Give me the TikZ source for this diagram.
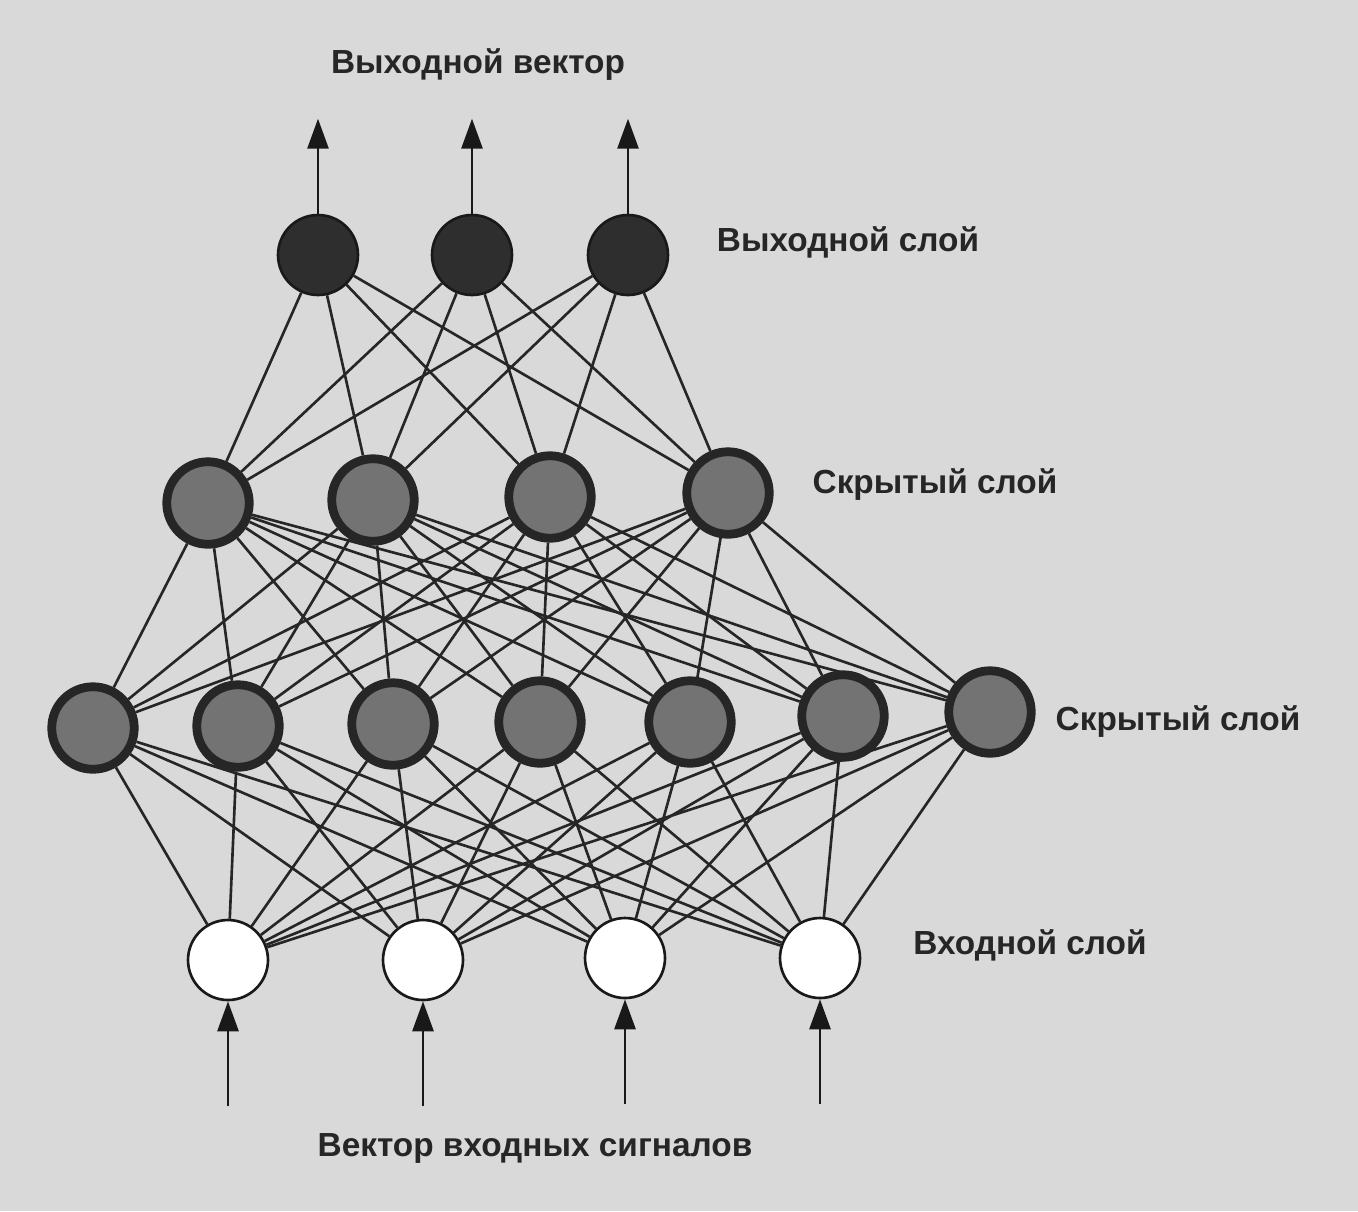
\documentclass[tikz,border=0pt]{standalone}
\usepackage{fontspec}
\setmainfont{Liberation Sans}
\usetikzlibrary{arrows.meta,calc}

\tikzset{
  outneuron/.style={circle,draw=black!90,fill=black!82,line width=1.5pt,minimum size=1.6cm,inner sep=0pt},
  hidneuron/.style={circle,draw=black!85,fill=black!55,line width=5pt,minimum size=1.65cm,inner sep=0pt},
  inneuron/.style={circle,draw=black!90,fill=white,line width=1.5pt,minimum size=1.6cm,inner sep=0pt},
  link/.style={black!85,line width=1.5pt},
  signal/.style={black!90,line width=1.6pt,-{Triangle[length=0.6cm,width=0.42cm]}},
  lbl/.style={font=\fontsize{19}{22}\selectfont\bfseries,text=black!85}
}

\begin{document}
\begin{tikzpicture}[x=0.02cm,y=-0.02cm]

        % paper
        \fill[black!15] (0,0) rectangle (1358,1211);
        \useasboundingbox (0,0) rectangle (1358,1211);

        % output layer
        \node[outneuron] (o1) at (318,255) {};
        \node[outneuron] (o2) at (472,255) {};
        \node[outneuron] (o3) at (628,255) {};

        % second hidden layer
        \node[hidneuron] (b1) at (208,503) {};
        \node[hidneuron] (b2) at (373,500) {};
        \node[hidneuron] (b3) at (550,497) {};
        \node[hidneuron] (b4) at (728,493) {};

        % first hidden layer
        \node[hidneuron] (a1) at (93,728) {};
        \node[hidneuron] (a2) at (238,726) {};
        \node[hidneuron] (a3) at (393,724) {};
        \node[hidneuron] (a4) at (540,722) {};
        \node[hidneuron] (a5) at (690,722) {};
        \node[hidneuron] (a6) at (843,716) {};
        \node[hidneuron] (a7) at (990,712) {};

        % input layer
        \node[inneuron] (i1) at (228,960) {};
        \node[inneuron] (i2) at (423,960) {};
        \node[inneuron] (i3) at (625,958) {};
        \node[inneuron] (i4) at (820,958) {};

        % links
        \foreach \u in {1,2,3} \foreach \v in {1,2,3,4} \draw[link] (o\u) -- (b\v);
        \foreach \u in {1,...,4} \foreach \v in {1,...,7} \draw[link] (b\u) -- (a\v);
        \foreach \u in {1,...,7} \foreach \v in {1,...,4} \draw[link] (a\u) -- (i\v);

        % outputs and inputs
        \foreach \n in {1,2,3} {
          \coordinate (ot\n) at ($(o\n.north)+(0,-95)$);
          \draw[signal] (o\n.north) -- (ot\n);
        }
        \foreach \n in {1,...,4} {
          \coordinate (ib\n) at ($(i\n.south)+(0,105)$);
          \draw[signal] (ib\n) -- (i\n.south);
        }

        % labels
        \node[lbl] (outvec) at (478,65) {Выходной вектор};
        \node[lbl] (outlay) at (848,242) {Выходной слой};
        \node[lbl] (hidtwo) at (935,485) {Скрытый слой};
        \node[lbl] (hidone) at (1178,722) {Скрытый слой};
        \node[lbl] (inlay) at (1030,945) {Входной слой};
        \node[lbl] (invec) at (535,1148) {Вектор входных сигналов};

\end{tikzpicture}
\end{document}
